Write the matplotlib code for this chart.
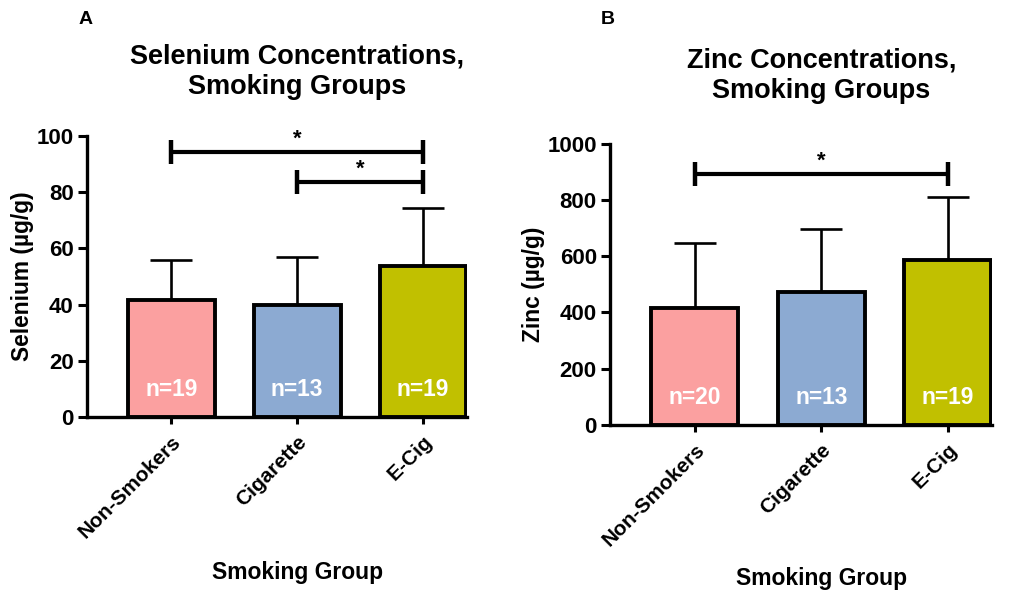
import numpy as np
import matplotlib
matplotlib.use("Agg")
import matplotlib.pyplot as plt
from matplotlib.transforms import blended_transform_factory

plt.rcParams['font.family'] = ['Liberation Sans', 'DejaVu Sans']
plt.rcParams['font.weight'] = 'bold'

groups = ["Non-Smokers", "Cigarette", "E-Cig"]
colors = ["#fba0a0", "#8caad2", "#c1c000"]

se_mean = [41.7, 39.7, 53.9]
se_sd = [14.2, 17.2, 20.6]
se_n = [19, 13, 19]

zn_mean = [415, 472, 587]
zn_sd = [231, 224, 225]
zn_n = [20, 13, 19]

# significance brackets: (from group, to group, height)
se_sig = [(0, 2, 94.4), (1, 2, 83.7)]
zn_sig = [(0, 2, 892)]

fig = plt.figure(figsize=(10.22, 5.91), dpi=100)
ax1 = fig.add_axes([0.0851, 0.2944, 0.3718, 0.4755])
ax2 = fig.add_axes([0.5969, 0.2814, 0.3738, 0.4750])


def panel(ax, mean, sd, n, sig, ymax, ystep, ylabel, tick_h):
    x = np.arange(len(groups))
    ax.bar(x, mean, width=0.69, color=colors, edgecolor="black",
           linewidth=2.8, zorder=3)
    ax.errorbar(x, mean, yerr=[np.zeros(len(x)), sd], fmt="none",
                ecolor="black", elinewidth=1.9, capsize=15, capthick=1.9,
                zorder=2)
    ax.set_xlim(-0.67, 2.35)
    ax.set_ylim(0, ymax)
    ax.set_yticks(np.arange(0, ymax + 1, ystep))
    ax.set_xticks(x)
    ax.set_xticklabels(groups, rotation=45, ha="right",
                       rotation_mode="anchor", fontsize=15, fontweight="bold")
    ax.tick_params(axis="y", labelsize=16, width=2.2, length=6.5, pad=3)
    ax.tick_params(axis="x", width=2.2, length=5, pad=6)
    for lab in ax.get_yticklabels():
        lab.set_fontweight("bold")
    for s in ["top", "right"]:
        ax.spines[s].set_visible(False)
    for s in ["left", "bottom"]:
        ax.spines[s].set_linewidth(2.4)
    ax.set_ylabel(ylabel, fontsize=16.4, fontweight="bold", labelpad=2)

    tr = blended_transform_factory(ax.transData, ax.transAxes)
    for xi, ni in zip(x, n):
        ax.text(xi, 0.097, "n=%d" % ni, transform=tr, color="white",
                fontsize=16.4, fontweight="bold", ha="center", va="center",
                zorder=4)

    for a, b, h in sig:
        ax.plot([a, b], [h, h], color="black", lw=3, clip_on=False,
                solid_capstyle="butt")
        for xe in (a, b):
            ax.plot([xe, xe], [h - tick_h, h + tick_h], color="black",
                    lw=3.2, clip_on=False, solid_capstyle="butt")
        ax.text((a + b) / 2, h + tick_h * 0.2, "*", ha="center",
                va="bottom", fontsize=16, fontweight="bold")


panel(ax1, se_mean, se_sd, se_n, se_sig, 100, 20,
      "Selenium (\u00b5g/g)", 4.3)
panel(ax2, zn_mean, zn_sd, zn_n, zn_sig, 1000, 200,
      "Zinc (\u00b5g/g)", 43)

# titles and x labels sit over the middle group
tr1 = blended_transform_factory(ax1.transData, fig.transFigure)
tr2 = blended_transform_factory(ax2.transData, fig.transFigure)
ax1.text(1, 1 - 72 / 591, "Selenium Concentrations,\nSmoking Groups",
         transform=tr1, ha="center", va="center", fontsize=19.5,
         fontweight="bold", linespacing=1.22)
ax2.text(1, 1 - 76 / 591, "Zinc Concentrations,\nSmoking Groups",
         transform=tr2, ha="center", va="center", fontsize=19.5,
         fontweight="bold", linespacing=1.22)
ax1.text(1, 1 - 572 / 591, "Smoking Group", transform=tr1, ha="center",
         va="center", fontsize=16.5, fontweight="bold")
ax2.text(1, 1 - 578 / 591, "Smoking Group", transform=tr2, ha="center",
         va="center", fontsize=16.5, fontweight="bold")

fig.text(86 / 1022, 1 - 20 / 591, "A", ha="center", va="center",
         fontsize=14, fontweight="bold")
fig.text(608 / 1022, 1 - 20 / 591, "B", ha="center", va="center",
         fontsize=14, fontweight="bold")

fig.savefig("out.png", dpi=100)
